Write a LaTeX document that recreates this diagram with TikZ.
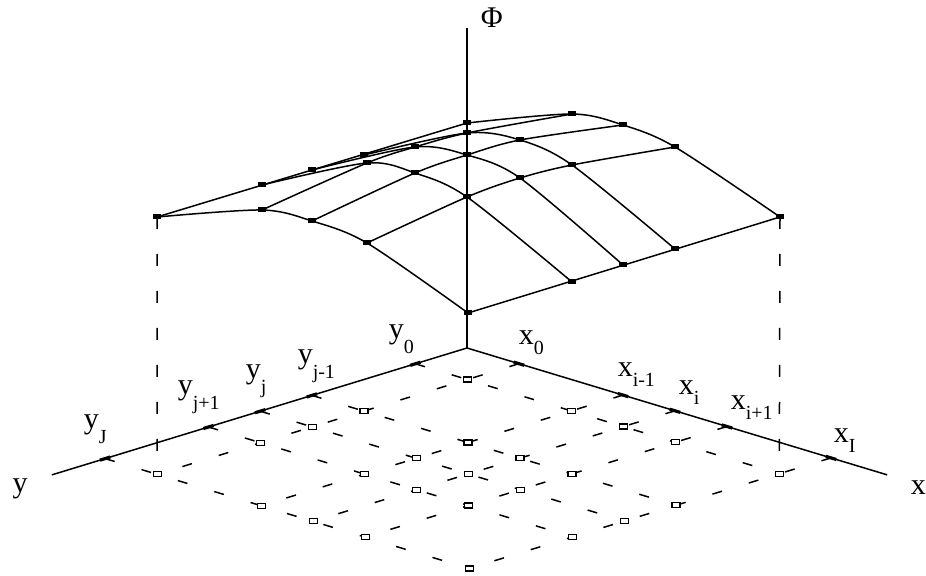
\documentclass[tikz,border=0pt]{standalone}
\usepackage{fontspec}
\setmainfont{Liberation Serif}
\usepackage{tikz}
\usetikzlibrary{calc}
\newcommand{\subsz}{\fontsize{10}{10}\selectfont}
\newcommand{\sublbl}[3][5pt]{#2\raisebox{-#1}{\subsz #3}}

\begin{document}
\begin{tikzpicture}[x=0.5pt,y=-0.5pt,line width=0.75pt,
  lbl/.style={inner sep=0pt,anchor=base west,font=\fontsize{15}{18}\selectfont},
  surf/.style={line width=0.75pt},
  gridline/.style={line width=0.75pt,dash pattern=on 5pt off 14pt},
  drop/.style={line width=0.75pt,dash pattern=on 6pt off 12.5pt},
  axtick/.style={line width=1.6pt}]
  \useasboundingbox (0,0) rectangle (926,576);
  \coordinate (O) at (467,348);
  \coordinate (PhiTop) at (467,28);
  \begin{scope}[shift={(467,348)},x={(26pt,-7.85pt)},y={(-25.85pt,-7.9pt)}]
    \coordinate (Xend) at (8.08,0);
    \coordinate (Yend) at (0,8.03);
    \foreach \k in {1,3,4,5,7}{
      \draw[gridline] (0,\k) -- (7,\k);
      \draw[gridline] (\k,0) -- (\k,7);
      \draw[axtick] (\k-0.1,0) -- (\k+0.1,0);
      \draw[axtick] (0,\k-0.1) -- (0,\k+0.1);
    }
    \foreach \i in {1,3,4,5,7}
      \foreach \j in {1,3,4,5,7}
        \coordinate (g\i\j) at (\i,\j);
  \end{scope}
  \foreach \i in {1,3,4,5,7}
    \foreach \j in {1,3,4,5,7}
      \draw[fill=white,line width=0.6pt] (g\i\j) ++(-4,-2.5) rectangle ++(8,5);

  \draw (O) -- (PhiTop);
  \draw (O) -- (Xend);
  \draw (O) -- (Yend);

  \coordinate (L) at (157,217);
  \coordinate (B) at (467,123);
  \coordinate (R) at (780,217);
  \coordinate (F) at (468,313);
  \coordinate (bl1) at (364,155);
  \coordinate (bl2) at (312,170);
  \coordinate (bl3) at (262,185);
  \coordinate (br1) at (572,114);
  \coordinate (br2) at (623,125);
  \coordinate (br3) at (675,147);
  \coordinate (fr1) at (675,249);
  \coordinate (fr2) at (623,265);
  \coordinate (fr3) at (572,282);
  \coordinate (fl1) at (262,210);
  \coordinate (fl2) at (312,221);
  \coordinate (fl3) at (367,243);
  \coordinate (p11) at (467,133);
  \coordinate (p21) at (520,140);
  \coordinate (p31) at (572,165);
  \coordinate (p12) at (415,147);
  \coordinate (p22) at (467,155);
  \coordinate (p32) at (520,178);
  \coordinate (p13) at (367,163);
  \coordinate (p23) at (415,173);
  \coordinate (p33) at (467,197);

  \draw[drop] (L) -- (g17);
  \draw[drop] (R) -- (g71);

  \draw[surf] (L) -- (B);
  \draw[surf] plot[smooth] coordinates {(B) (br1) (br2) (br3) (R)};
  \draw[surf] (R) -- (F);
  \draw[surf] plot[smooth] coordinates {(F) (fl3) (fl2) (fl1) (L)};
  \draw[surf] plot[smooth] coordinates {(bl1) (p11) (p21) (p31) (fr1)};
  \draw[surf] plot[smooth] coordinates {(bl2) (p12) (p22) (p32) (fr2)};
  \draw[surf] plot[smooth] coordinates {(bl3) (p13) (p23) (p33) (fr3)};
  \draw[surf] plot[smooth] coordinates {(br1) (p11) (p12) (p13) (fl1)};
  \draw[surf] plot[smooth] coordinates {(br2) (p21) (p22) (p23) (fl2)};
  \draw[surf] plot[smooth] coordinates {(br3) (p31) (p32) (p33) (fl3)};
  \foreach \p in {L,B,R,F,bl1,bl2,bl3,br1,br2,br3,fr1,fr2,fr3,fl1,fl2,fl3,
                  p11,p12,p13,p21,p22,p23,p31,p32,p33}
    \fill (\p) ++(-4,-2.5) rectangle ++(8,5);

  \node[lbl] (philab) at (480,28) {Φ};
  \node[lbl] (xlab) at (910,495) {x};
  \node[lbl] (ylab) at (12,493) {y};
  \node[lbl] (x0) at (518,345) {\sublbl{x}{0}};
  \node[lbl] (xim) at (617,377) {\sublbl{x}{i-1}};
  \node[lbl] (xi) at (678,395) {\sublbl{x}{i}};
  \node[lbl] (xip) at (730,410) {\sublbl{x}{i+1}};
  \node[lbl] (xI) at (833,443) {\sublbl{x}{I}};
  \node[lbl] (y0) at (388,339) {\sublbl[7.5pt]{y}{0}};
  \node[lbl] (yjm) at (297,364) {\sublbl[7.5pt]{y}{j-1}};
  \node[lbl] (yj) at (245,379) {\sublbl[7.5pt]{y}{j}};
  \node[lbl] (yjp) at (177,395) {\sublbl[7.5pt]{y}{j+1}};
  \node[lbl] (yJ) at (83,429) {\sublbl[7.5pt]{y}{J}};
\end{tikzpicture}
\end{document}
